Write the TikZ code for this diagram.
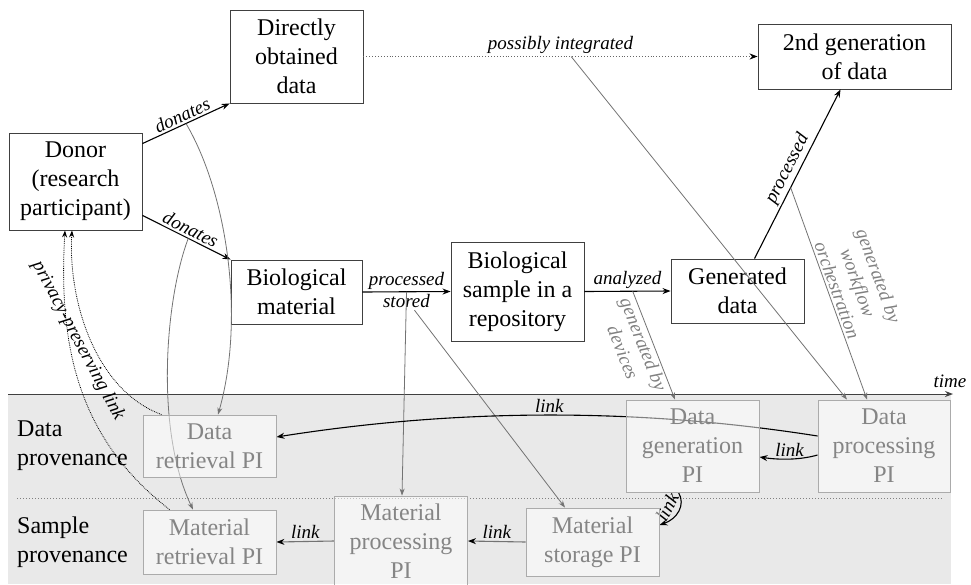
\documentclass[tikz,border=0pt]{standalone}
\usepackage{fontspec}
\setmainfont{Liberation Serif}
\usetikzlibrary{arrows.meta,calc}
\pgfdeclarelayer{back}
\pgfdeclarelayer{front}
\pgfsetlayers{back,main,front}
\definecolor{bgc}{HTML}{E9E9E9}
\begin{document}
\begin{tikzpicture}[x=1pt,y=-1pt,
  mainbox/.style={draw=black!75, line width=0.9pt, inner sep=0pt, align=center, font=\fontsize{24}{29}\selectfont},
  provbox/.style={draw=black!33, line width=0.9pt, fill=white, fill opacity=0.5, text opacity=1, text=black!48, inner sep=0pt, align=center, font=\fontsize{24}{29}\selectfont},
  lanelbl/.style={anchor=west, align=left, inner sep=0pt, font=\fontsize{24}{29}\selectfont},
  lbl/.style={font=\fontsize{19}{22}\selectfont\itshape, inner sep=2pt},
  glbl/.style={lbl, text=black!50},
  blkarr/.style={line width=1.1pt, -{Stealth[length=8pt,width=6pt]}},
  grayarr/.style={line width=0.8pt, draw=black!55, -{Stealth[length=7pt,width=5pt]}},
  linkarr/.style={line width=1.1pt, -{Stealth[length=8pt,width=6pt,color=black]}},
  privarr/.style={line width=0.8pt, densely dotted, -{Stealth[length=7pt,width=5pt]}},
]
\useasboundingbox (0,0) rectangle (971,584);

% background lanes
\begin{pgfonlayer}{back}
\fill[bgc] (8,394) rectangle (951,584);
\end{pgfonlayer}
\coordinate (sepL) at (17,498);
\coordinate (sepR) at (942,498);
\draw[black!50, dotted, line width=1pt] (sepL) -- (sepR);
\coordinate (tA) at (8,394);
\coordinate (tB) at (953,394);
\draw[line width=1pt, black!75, -{Stealth[length=8pt,width=6pt]}] (tA) -- (tB);
\node[lbl] (timelbl) at (950,381) {time};

% main boxes
\node[mainbox, minimum width=133pt, minimum height=97pt] (donor) at (75.5,181.5) {Donor\\(research\\participant)};
\node[mainbox, minimum width=133pt, minimum height=93pt] (direct) at (296.5,56.5) {Directly\\obtained\\data};
\node[mainbox, minimum width=193pt, minimum height=65pt] (second) at (854.5,56.5) {2nd generation\\of data};
\node[mainbox, minimum width=131pt, minimum height=64pt] (biomat) at (296.5,292) {Biological\\material};
\node[mainbox, minimum width=133pt, minimum height=99pt] (biosample) at (517.5,291.5) {Biological\\sample in a\\repository};
\node[mainbox, minimum width=133pt, minimum height=64pt] (gendata) at (737.5,291) {Generated\\data};

% lane labels
\node[lanelbl] (dprov) at (17,446) {Data\\provenance};
\node[lanelbl] (sprov) at (17,542) {Sample\\provenance};

% provenance boxes
\begin{pgfonlayer}{front}
\node[provbox, minimum width=133pt, minimum height=62pt] (dret) at (209.5,446) {Data\\retrieval PI};
\node[provbox, minimum width=133pt, minimum height=64pt] (mret) at (209.5,542) {Material\\retrieval PI};
\node[provbox, minimum width=133pt, minimum height=90pt] (mproc) at (401,541) {Material\\processing\\PI};
\node[provbox, minimum width=133pt, minimum height=68pt] (mstor) at (592.5,542) {Material\\storage PI};
\node[provbox, minimum width=133pt, minimum height=92pt] (dgen) at (692.5,446) {Data\\generation\\PI};
\node[provbox, minimum width=132pt, minimum height=92pt] (dproc) at (884,446) {Data\\processing\\PI};
\end{pgfonlayer}

% main flow
\draw[blkarr] ($(donor.north east)+(0,11)$) -- node[lbl, sloped, above]{donates} coordinate[pos=0.5] (don1) (direct.south west);
\draw[blkarr] ($(donor.south east)+(0,-15)$) -- node[lbl, sloped, above]{donates} coordinate[pos=0.52] (don2) (biomat.north west);
\draw[line width=0.9pt, black!60, dotted, -{Stealth[length=8pt,width=6pt,color=black]}] (direct.east) -- node[lbl, above, text=black]{possibly integrated} coordinate[pos=0.527] (posint) (second.west);
\draw[blkarr] (biomat.east) -- node[lbl, above]{processed} node[lbl, below] (stored) {stored} coordinate[pos=0.5] (procmid) (biosample.west);
\draw[blkarr] (biosample.east) -- node[lbl, above]{analyzed} coordinate[pos=0.56] (anmid) (gendata.west);
\draw[blkarr] ($(gendata.north)+(17,0)$) -- node[lbl, sloped, above]{processed} coordinate[pos=0.42] (pr2) ($(second.south)+(-14,0)$);

% provenance (gray) arrows
\draw[grayarr] (don1) .. controls (228,195) and (245,320) .. ($(dret.north)+(8.5,0)$);
\draw[grayarr] (don2) .. controls (165,300) and (155,430) .. ($(mret.north)+(-16.5,0)$);
\draw[grayarr] (procmid) -- ($(mproc.north)+(1,0)$);
\draw[grayarr] ($(stored.south)+(8,0)$) -- ($(mstor.north)+(-27.5,0)$);
\draw[grayarr] (anmid) -- node[glbl, sloped, below, align=center, pos=0.46]{generated by\\devices} ($(dgen.north)+(-17.5,0)$);
\draw[grayarr] (posint) -- ($(dproc.north)+(-37,0)$);
\draw[grayarr] (pr2) -- node[glbl, sloped, above, align=center, pos=0.5]{generated by\\workflow\\orchestration} ($(dproc.north)+(-17,0)$);

% links
\draw[linkarr] ($(dproc.west)+(0,-10)$) .. controls (640,408) and (460,408) .. node[lbl, above, pos=0.5]{link} ($(dret.east)+(0,-9)$);
\draw[linkarr] ($(dproc.west)+(0,9)$) .. controls (800,460) and (780,460) .. node[lbl, above]{link} ($(dgen.east)+(0,11)$);
\draw[linkarr] ($(dgen.south)+(-14,0)$) .. controls (686,505) and (677,519) .. ($(mstor.east)+(0,-17)$);
\node[lbl, rotate=62, inner sep=0pt] (l3lbl) at (667,507) {link};
\draw[linkarr, draw=black!55] (mstor.west) -- node[lbl, above]{link} (mproc.east);
\draw[linkarr, draw=black!55] (mproc.west) -- node[lbl, above]{link} (mret.east);

% privacy-preserving links
\draw[privarr] ($(dret.north west)+(19,0)$) .. controls (95,390) and (68,300) .. ($(donor.south)+(-3.5,0)$);
\draw[privarr] ($(mret.north west)+(27,0)$) .. controls (80,440) and (58,350) .. ($(donor.south)+(-10.5,0)$);
\node[lbl, rotate=-62] (privlbl) at (78,341) {privacy-preserving link};
\end{tikzpicture}
\end{document}
